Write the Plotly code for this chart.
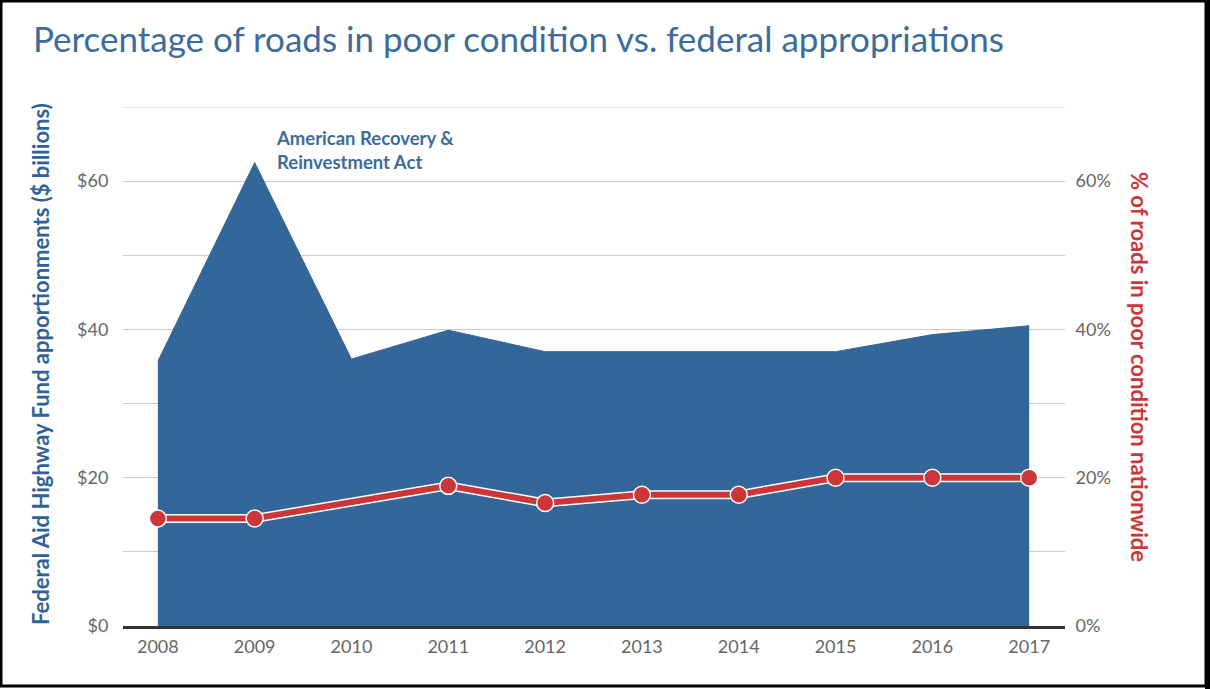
import plotly.graph_objects as go

# data
anos = [2008, 2009, 2010, 2011, 2012, 2013, 2014, 2015, 2016, 2017]
verba_bilhoes = [35.7, 62.5, 36.0, 39.9, 37.0, 37.0, 37.0, 37.0, 39.3, 40.5]
pct_ruim = [14.5, 14.5, None, 18.9, 16.6, 17.7, 17.7, 20.0, 20.0, 20.0]

y_ticks = [0, 10, 20, 30, 40, 50, 60, 70]
y_left_text = ['$0', '', '$20', '', '$40', '', '$60', '']
y_right_text = ['0%', '', '20%', '', '40%', '', '60%', '']

azul = '#336699'
vermelho = '#cc3639'
cinza = '#666666'

W, H = 1210, 689
L, R, T, B = 123, 145, 107, 63

fig = go.Figure()

# area das verbas federais
fig.add_trace(go.Scatter(x=anos, y=verba_bilhoes, mode='lines', fill='tozeroy',
                         fillcolor=azul, line=dict(color=azul, width=1),
                         hoverinfo='skip', showlegend=False))

# contorno branco da linha vermelha
fig.add_trace(go.Scatter(x=anos, y=pct_ruim, mode='lines', yaxis='y2',
                         connectgaps=True, line=dict(color='white', width=9),
                         hoverinfo='skip', showlegend=False))
fig.add_trace(go.Scatter(x=anos, y=pct_ruim, mode='lines+markers', yaxis='y2',
                         connectgaps=True, line=dict(color=vermelho, width=6),
                         marker=dict(size=17, color=vermelho,
                                     line=dict(color='white', width=1.5)),
                         showlegend=False))

fig.update_layout(
    width=W, height=H,
    margin=dict(l=L, r=R, t=T, b=B),
    paper_bgcolor='white', plot_bgcolor='white',
    font=dict(family='Lato, Noto Sans, sans-serif', color=cinza, size=17),
    title=dict(text='Percentage of roads in poor condition vs. federal appropriations',
               x=33 / W, xanchor='left', y=1 - 40 / H, yanchor='middle',
               font=dict(size=35, color='#3d6b9a')),
    xaxis=dict(range=[2007.64, 2017.37], tickvals=anos, showgrid=False,
               zeroline=False, showline=True, linecolor='#333333', linewidth=3,
               ticks='outside', ticklen=2, tickcolor='rgba(0,0,0,0)',
               tickfont=dict(size=18, color=cinza)),
    yaxis=dict(range=[0, 70], tickvals=y_ticks, ticktext=y_left_text,
               showgrid=True, gridcolor='#cccccc', gridwidth=1, zeroline=False,
               ticks='outside', ticklen=10, tickcolor='rgba(0,0,0,0)',
               tickfont=dict(size=18, color=cinza)),
    yaxis2=dict(range=[0, 70], tickvals=y_ticks, ticktext=y_right_text,
                overlaying='y', side='right', showgrid=False, zeroline=False,
                ticks='outside', ticklen=6, tickcolor='rgba(0,0,0,0)',
                tickfont=dict(size=18, color=cinza)),
    hovermode=False,
)

# linha de grade do topo (70)
fig.add_shape(type='line', xref='paper', yref='y', x0=0, x1=1, y0=70, y1=70,
              line=dict(color='#cccccc', width=1), layer='below')

fig.add_annotation(text='<b>American Recovery &<br>Reinvestment Act</b>',
                   x=2009.2, y=67.6, xref='x', yref='y', xanchor='left',
                   yanchor='top', align='left', showarrow=False,
                   font=dict(size=18.5, color='#3d6b9a'))

# titulos dos eixos
fig.add_annotation(text='<b>Federal Aid Highway Fund apportionments ($ billions)</b>',
                   x=(40 - L) / (W - L - R), y=(H - B - 364) / (H - T - B),
                   xref='paper', yref='paper', xanchor='center', yanchor='middle',
                   textangle=-90, showarrow=False,
                   font=dict(size=22, color='#2f6397'))
fig.add_annotation(text='<b>% of roads in poor condition nationwide</b>',
                   x=(1140 - L) / (W - L - R), y=(H - B - 367) / (H - T - B),
                   xref='paper', yref='paper', xanchor='center', yanchor='middle',
                   textangle=90, showarrow=False,
                   font=dict(size=22, color=vermelho))

# moldura preta da imagem
pw, ph = W - L - R, H - T - B
fig.add_shape(type='rect', xref='paper', yref='paper',
              x0=(1 - L) / pw, x1=(1206 - L) / pw,
              y0=(H - B - 686) / ph, y1=(H - B - 1) / ph,
              line=dict(color='black', width=3), fillcolor='rgba(0,0,0,0)')
fig.add_shape(type='rect', xref='paper', yref='paper',
              x0=(1205 - L) / pw, x1=(1212 - L) / pw,
              y0=(H - B - 690) / ph, y1=(H - B + 1) / ph,
              line=dict(width=0), fillcolor='black')

fig.write_html('out.html', config={'displayModeBar': False},
               post_script="document.body.style.margin='0px';")
